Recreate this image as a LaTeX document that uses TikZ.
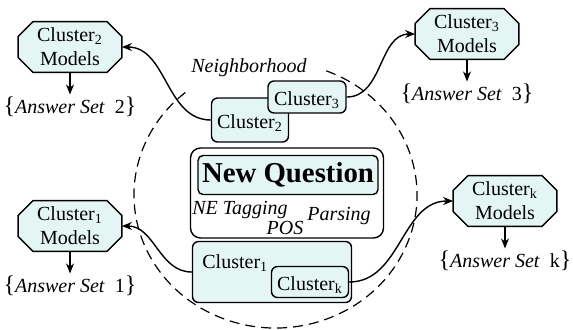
\documentclass[tikz,border=0pt]{standalone}
\usepackage{fontspec}
\setmainfont{Liberation Serif}
\usetikzlibrary{arrows.meta,positioning,backgrounds}

\definecolor{clusterfill}{RGB}{228,246,244}

\begin{document}
\begin{tikzpicture}[
            x=0.5pt, y=-0.5pt,
            node distance = 11pt,
            model/.style = {rectangle, minimum width=51.5pt, minimum height=25pt, align=center, inner sep=1pt},
            octagon/.style = {draw, fill=clusterfill, line width=0.7pt},
            answer/.style = {inner sep=1pt},
            cluster/.style = {rectangle, draw, fill=clusterfill, rounded corners=3pt, inner sep=1pt, text height=10pt, text depth=2pt, line width=0.7pt},
            tag/.style = {font=\itshape, inner sep=1pt},
            link/.style = {-{Stealth[length=5pt, width=4pt]}, line width=0.7pt}
        ]
        \useasboundingbox (0,0) rectangle (573,329);

        % Neighborhood of the new question
        \node [tag] (nbh) at (249,68) {Neighborhood};
        \draw [dash pattern=on 5pt off 3pt, line width=0.6pt] (275.5,195) ++(69:70.75pt and 66.5pt)
            arc [start angle=69, end angle=-232, x radius=70.75pt, y radius=66.5pt];

        % Models of every cluster
        \node [model] (m2) at (70,47) {Cluster\textsubscript{2}\\Models};
        \node [model] (m3) at (467,34) {Cluster\textsubscript{3}\\Models};
        \node [model] (m1) at (70,226) {Cluster\textsubscript{1}\\Models};
        \node [model] (mk) at (505,201) {Cluster\textsubscript{k}\\Models};
        \begin{pgfonlayer}{background}
            \foreach \m in {m1,m2,m3,mk}
                \draw [octagon] ([xshift=7.5pt]\m.north west) -- ([xshift=-7.5pt]\m.north east)
                    -- ([yshift=-7.5pt]\m.north east) -- ([yshift=7.5pt]\m.south east)
                    -- ([xshift=-7.5pt]\m.south east) -- ([xshift=7.5pt]\m.south west)
                    -- ([yshift=7.5pt]\m.south west) -- ([yshift=-7.5pt]\m.north west) -- cycle;
        \end{pgfonlayer}

        % Answer sets below the models
        \node [answer, below=of m2] (a2) {{\large\{}\textit{Answer Set}\enspace 2{\large\}}};
        \node [answer, below=of m3] (a3) {{\large\{}\textit{Answer Set}\enspace 3{\large\}}};
        \node [answer, below=of m1] (a1) {{\large\{}\textit{Answer Set}\enspace 1{\large\}}};
        \node [answer, below=of mk] (ak) {{\large\{}\textit{Answer Set}\enspace k{\large\}}};
        \foreach \c in {1,2,3,k}
            \draw [link] (m\c.south) -- (a\c.north);

        % New question and its features
        \node [draw, fill=white, rounded corners=5pt, minimum width=96.5pt, minimum height=45pt, line width=0.7pt] (qbox) at (287,193) {};
        \node [cluster, rounded corners=2.5pt, text height=, text depth=, minimum width=90pt, minimum height=19.5pt, font=\Large\bfseries] (q) at (288,175) {New Question};
        \node [tag] (ne) at (240,210) {NE Tagging};
        \node [tag] (pos) at (285,228) {POS};
        \node [tag] (parse) at (339,216) {Parsing};

        % Clusters in the neighborhood
        \node [cluster, minimum width=38.5pt, minimum height=22pt] (c2) at (250,120) {Cluster\textsubscript{2}};
        \node [cluster, minimum width=39pt, minimum height=16pt] (c3) at (307,97) {Cluster\textsubscript{3}};
        \node [cluster, minimum width=79.5pt, minimum height=30.5pt] (c1) at (272,272) {};
        \node [anchor=base west, inner sep=0pt] (c1lbl) at (202,268) {Cluster\textsubscript{1}};
        \node [cluster, minimum width=38.5pt, minimum height=15.5pt] (ck) at (310,282) {Cluster\textsubscript{k}};

        % Links from the clusters to their models
        \draw [link] (c2.west) to[out=180, in=0] (m2.east);
        \draw [link] (c3.east) to[out=0, in=180] (m3.west);
        \draw [link] (c1.west) to[out=180, in=0] (m1.east);
        \draw [link] (ck.east) to[out=0, in=180] (mk.west);

    \end{tikzpicture}
\end{document}
